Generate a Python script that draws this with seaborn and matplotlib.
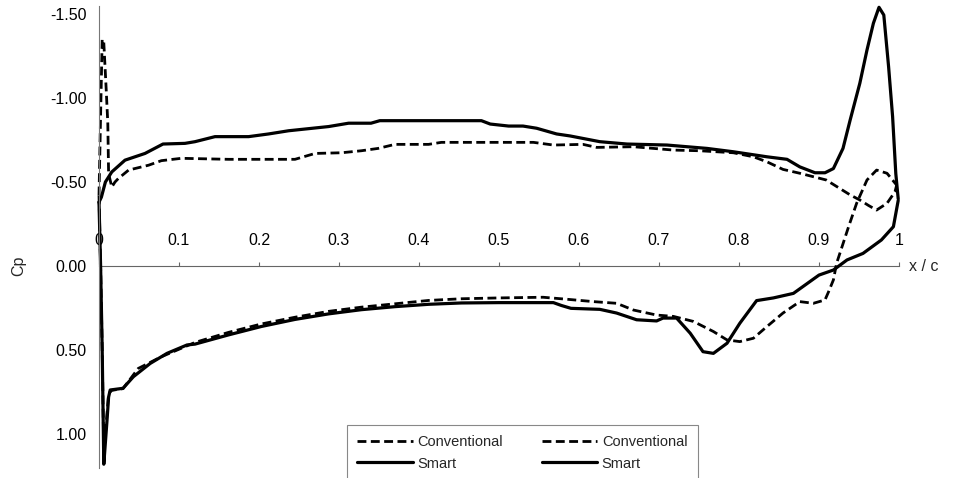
import matplotlib
matplotlib.use("Agg")
import matplotlib.pyplot as plt
import seaborn as sns
import pandas as pd

# ---------------- data ----------------
conv_upper_x = [0.0, 0.002, 0.004, 0.006, 0.009, 0.011, 0.012, 0.016, 0.020, 0.024, 0.037, 0.062, 0.078,
                0.103, 0.162, 0.245, 0.27, 0.303, 0.328, 0.349, 0.37, 0.412, 0.428, 0.516, 0.543, 0.568,
                0.605, 0.622, 0.668, 0.718, 0.751, 0.793, 0.818, 0.835, 0.855, 0.876, 0.909, 0.939, 0.951,
                0.962, 0.972, 0.985, 0.995, 0.997]
conv_upper_cp = [-0.42, -0.90, -1.35, -1.33, -1.05, -0.85, -0.55, -0.47, -0.50, -0.52, -0.571, -0.60, -0.627,
                 -0.641, -0.635, -0.635, -0.67, -0.674, -0.686, -0.70, -0.724, -0.724, -0.736, -0.736, -0.736,
                 -0.72, -0.724, -0.706, -0.71, -0.69, -0.686, -0.674, -0.65, -0.62, -0.575, -0.552, -0.512,
                 -0.423, -0.393, -0.36, -0.333, -0.373, -0.442, -0.48]

conv_lower_x = [0.0, 0.002, 0.004, 0.006, 0.008, 0.010, 0.012, 0.016, 0.030, 0.049, 0.078, 0.12, 0.162,
                0.203, 0.245, 0.287, 0.328, 0.37, 0.412, 0.453, 0.50, 0.555, 0.585, 0.618, 0.647, 0.668,
                0.697, 0.718, 0.743, 0.768, 0.785, 0.801, 0.818, 0.835, 0.855, 0.876, 0.893, 0.9075, 0.912,
                0.918, 0.922, 0.937, 0.947, 0.96, 0.972, 0.985, 0.997]
conv_lower_cp = [-0.42, 0.0, 0.5, 1.12, 1.0, 0.88, 0.76, 0.74, 0.73, 0.61, 0.54, 0.455, 0.395,
                 0.345, 0.305, 0.27, 0.245, 0.225, 0.205, 0.195, 0.19, 0.186, 0.198, 0.212, 0.222, 0.262,
                 0.292, 0.30, 0.33, 0.39, 0.44, 0.45, 0.43, 0.36, 0.28, 0.212, 0.222, 0.202, 0.153,
                 0.083, -0.016, -0.234, -0.373, -0.512, -0.571, -0.552, -0.482]

smart_upper_x = [0.0, 0.003, 0.008, 0.016, 0.0325, 0.0575, 0.080, 0.1075, 0.12, 0.145, 0.187, 0.212,
                 0.237, 0.287, 0.312, 0.34, 0.351, 0.412, 0.478, 0.489, 0.512, 0.530, 0.547, 0.572, 0.589,
                 0.626, 0.66, 0.71, 0.76, 0.793, 0.835, 0.86, 0.876, 0.895, 0.9075, 0.918, 0.93, 0.939,
                 0.951, 0.96, 0.968, 0.975, 0.981, 0.987, 0.992, 0.996, 0.999]
smart_upper_cp = [-0.38, -0.41, -0.50, -0.56, -0.63, -0.67, -0.726, -0.73, -0.74, -0.77, -0.77, -0.786,
                  -0.805, -0.83, -0.85, -0.85, -0.865, -0.865, -0.865, -0.845, -0.833, -0.833, -0.82, -0.786,
                  -0.774, -0.74, -0.726, -0.72, -0.70, -0.68, -0.65, -0.635, -0.59, -0.555, -0.555, -0.58,
                  -0.70, -0.87, -1.087, -1.286, -1.445, -1.54, -1.494, -1.186, -0.889, -0.55, -0.40]

smart_lower_x = [0.0, 0.002, 0.004, 0.006, 0.008, 0.010, 0.012, 0.014, 0.030, 0.043, 0.064, 0.085, 0.11,
                 0.12, 0.162, 0.203, 0.245, 0.287, 0.328, 0.37, 0.412, 0.453, 0.50, 0.568, 0.578, 0.59,
                 0.626, 0.647, 0.672, 0.697, 0.705, 0.722, 0.739, 0.755, 0.768, 0.785, 0.801, 0.822, 0.843,
                 0.868, 0.90, 0.918, 0.935, 0.955, 0.978, 0.993, 0.999]
smart_lower_cp = [-0.38, 0.0, 0.5, 1.18, 1.05, 0.92, 0.78, 0.738, 0.728, 0.659, 0.58, 0.52, 0.47,
                  0.465, 0.41, 0.36, 0.318, 0.285, 0.26, 0.242, 0.228, 0.22, 0.218, 0.218, 0.235, 0.252,
                  0.258, 0.28, 0.32, 0.327, 0.31, 0.31, 0.40, 0.51, 0.52, 0.46, 0.341, 0.206, 0.19,
                  0.163, 0.054, 0.024, -0.036, -0.075, -0.155, -0.234, -0.39]

legend_labels = ["Conventional", "Smart", "Conventional", "Smart"]
y_ticks = [-1.5, -1.0, -0.5, 0.0, 0.5, 1.0]
y_tick_labels = ["-1.50", "-1.00", "-0.50", "0.00", "0.50", "1.00"]
x_ticks = [0.0, 0.1, 0.2, 0.3, 0.4, 0.5, 0.6, 0.7, 0.8, 0.9, 1.0]
x_tick_labels = ["0", "0.1", "0.2", "0.3", "0.4", "0.5", "0.6", "0.7", "0.8", "0.9", "1"]

# ---------------- style ----------------
sns.set_style("white")
plt.rcParams["font.family"] = ["Liberation Sans", "DejaVu Sans"]
plt.rcParams["axes.unicode_minus"] = False

W, H = 968, 478
fig = plt.figure(figsize=(W / 100, H / 100), dpi=100)
ax = fig.add_axes([99 / W, 1 - 467.6 / H, 800 / W, 462 / H])

def draw(xs, ys, dashed, label):
    df = pd.DataFrame({"x": xs, "cp": ys})
    if dashed:
        sns.lineplot(data=df, x="x", y="cp", sort=False, estimator=None, ax=ax, color="black",
                     linewidth=2.0, linestyle=(0, (3.2, 1.6)), label=label)
    else:
        sns.lineplot(data=df, x="x", y="cp", sort=False, estimator=None, ax=ax, color="black",
                     linewidth=2.3, linestyle="-", label=label)

draw(conv_upper_x, conv_upper_cp, True, legend_labels[0])
draw(smart_upper_x, smart_upper_cp, False, legend_labels[1])
draw(conv_lower_x, conv_lower_cp, True, legend_labels[2])
draw(smart_lower_x, smart_lower_cp, False, legend_labels[3])

ax.set_xlim(0, 1.0)
ax.set_ylim(1.2, -1.55)
for ln in ax.lines:
    ln.set_clip_on(False)

# spines: x axis through Cp = 0 with labels above it
ax.spines["right"].set_visible(False)
ax.spines["bottom"].set_visible(False)
ax.spines["top"].set_position(("data", 0))
ax.spines["top"].set_color("#666666")
ax.spines["top"].set_linewidth(0.8)
ax.spines["left"].set_color("#777777")
ax.spines["left"].set_linewidth(0.8)
ax.spines["top"].set_zorder(0)

ax.xaxis.set_ticks_position("top")
ax.set_xticks(x_ticks)
ax.set_xticklabels(x_tick_labels)
ax.tick_params(axis="x", direction="out", length=3, width=0.8, color="#666666",
               pad=10, labelsize=11.5, labelcolor="black")
ax.set_yticks(y_ticks)
ax.set_yticklabels(y_tick_labels)
ax.tick_params(axis="y", direction="out", length=4, width=0.8, color="#666666",
               pad=5, labelsize=11.5, labelcolor="black")

ax.set_xlabel("")
ax.set_ylabel("Cp", fontsize=11.5)
ax.yaxis.set_label_coords((26 - 99) / 800, 1.2 / 2.75)
ax.text(1.012, 0, "x / c", fontsize=11.5, va="center", ha="left", clip_on=False)

handles = ax.lines[:4]
leg = ax.legend(handles, legend_labels, ncol=2, loc="upper left",
                bbox_to_anchor=(347 / W, 1 - 425 / H), bbox_transform=fig.transFigure,
                fontsize=10.5, frameon=True, fancybox=False, framealpha=1,
                edgecolor="#888888", handlelength=3.8, handletextpad=0.3,
                columnspacing=2.7, labelspacing=0.5, borderpad=0.7, borderaxespad=0)
leg.get_frame().set_linewidth(0.8)

fig.savefig("out.png", dpi=100)
